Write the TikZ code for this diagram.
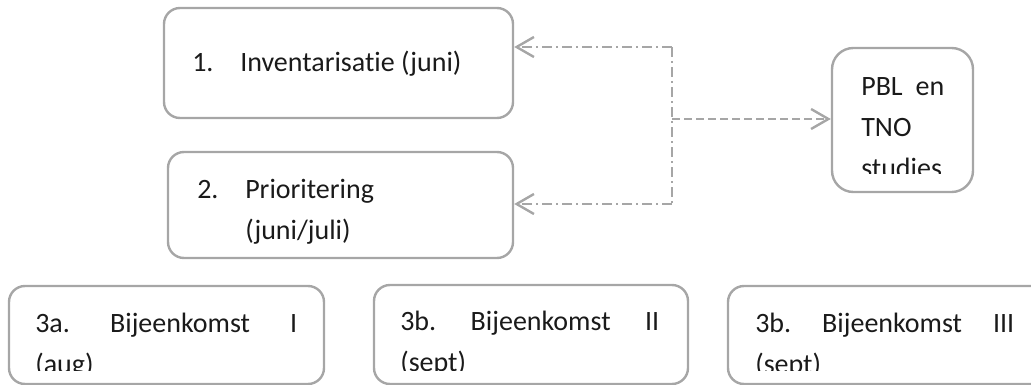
\documentclass[tikz,border=0pt]{standalone}
\usepackage{fontspec}
\setmainfont{Carlito}[Ligatures=NoCommon]
\usetikzlibrary{arrows.meta,fit}
\definecolor{linegray}{HTML}{A6A6A6}
\definecolor{textgray}{HTML}{1A1A1A}
\tikzset{
	stage/.style={draw=linegray, line width=1.8pt, rounded corners=#1, inner sep=0pt},
	stage/.default=12pt,
	label/.style={anchor=base west, inner sep=0pt, text=textgray, font=\fontsize{21}{30.75}\selectfont},
	feedback/.style={draw=linegray, line width=1.8pt, dash pattern=on 7.5pt off 3pt on 1.5pt off 3pt},
	request/.style={draw=linegray, line width=1.8pt, dash pattern=on 6pt off 3pt},
	tip/.style={-{Straight Barb[length=13pt, width=15pt]}}
}
\frenchspacing
\begin{document}
\begin{tikzpicture}[x=0.75pt, y=-0.75pt]
			%%%%% START %%%%%
			\useasboundingbox (0, 0) rectangle (1031, 385);
			\clip (0, 0) rectangle (1031, 385);
			
			\node[stage, fit={(164, 8) (513, 118)}] (inv) {};
			\node[stage, fit={(168, 152) (513, 258)}] (prio) {};
			\node[stage=16pt, fit={(832, 48) (973, 192)}] (pbl) {};
			
			\node[stage, fit={(9, 286) (324, 384)}] (meet1) {};
			\node[stage, fit={(374, 285) (688, 384)}] (meet2) {};
			\node[stage, fit={(728, 286) (1050, 384)}] (meet3) {};
			
			\node[label] (invtext) at (192, 71) {\makebox[36pt][l]{1.}Inventarisatie (juni)};
			\node[label] (priotext) at (197, 198) {\parbox[t]{200pt}{\makebox[36pt][l]{2.}Prioritering\\\hspace*{36pt}(juni/juli)}};
			
			\begin{scope}
				\clip (832, 48) rectangle (973, 173);
				\node[label] (pbltext) at (861, 95) {\parbox[t]{80pt}{\makebox[62.25pt][s]{PBL en}\\TNO\\studies}};
			\end{scope}
			
			\begin{scope}
				\clip (0, 280) rectangle (1031, 370);
				\node[label] (meet1text) at (35, 332) {\parbox[t]{220pt}{\makebox[196.5pt][s]{3a. Bijeenkomst I}\\(aug)}};
				\node[label] (meet2text) at (400, 330) {\parbox[t]{220pt}{\makebox[194.25pt][s]{3b. Bijeenkomst II}\\(sept)}};
				\node[label] (meet3text) at (755, 332) {\parbox[t]{220pt}{\makebox[194.25pt][s]{3b. Bijeenkomst III}\\(sept)}};
			\end{scope}
			
			\coordinate (split top) at (672, 47);
			\coordinate (split mid) at (672, 119);
			\coordinate (split bot) at (672, 204);
			
			\draw[feedback] (split top) -- (split bot);
			\draw[feedback, tip] (split top) -- (split top -| inv.east);
			\draw[feedback, tip] (split bot) -- (split bot -| prio.east);
			\draw[request, tip] (split mid) -- (split mid -| pbl.west);
			
			%%%%% END %%%%%
\end{tikzpicture}
\end{document}
